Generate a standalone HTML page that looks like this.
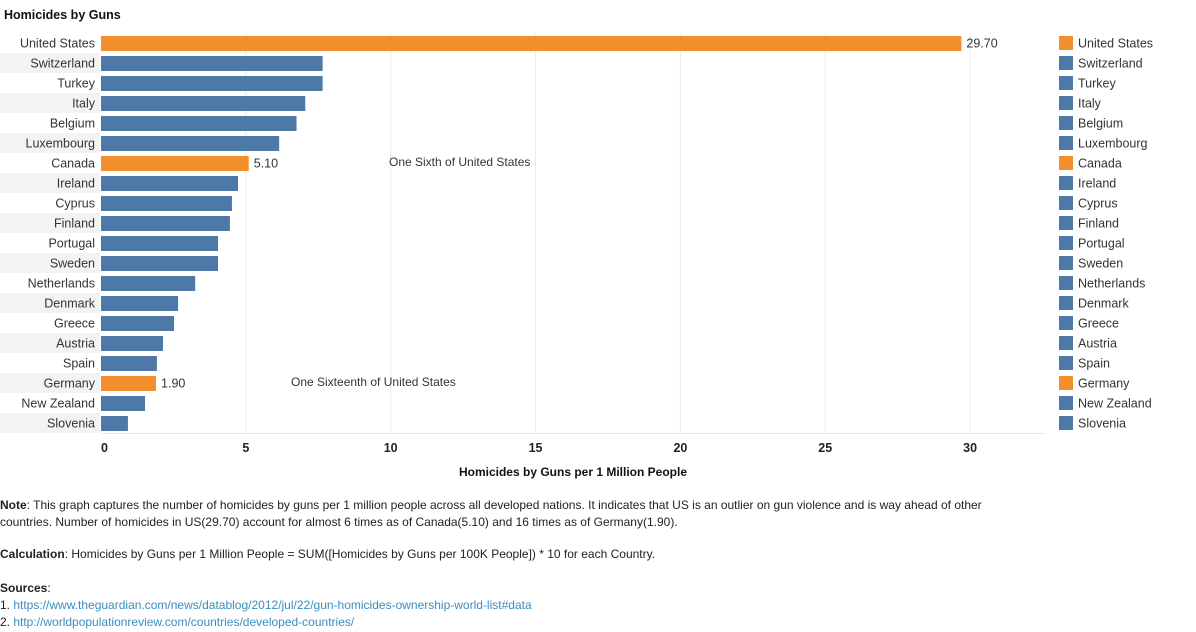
<!DOCTYPE html>
<html><head><meta charset="utf-8"><style>
body{margin:0;width:1196px;height:632px;background:#fff;font-family:"Liberation Sans",sans-serif;color:#333;position:relative;overflow:hidden}
.t{position:absolute;white-space:nowrap}
.note{position:absolute;left:0;font-size:12px;color:#222;line-height:17px;width:1060px}
a{color:#3a8dbd}
</style></head><body>
<div class="t" style="left:4px;top:8px;font-size:12.5px;font-weight:bold;color:#111">Homicides by Guns</div>
<svg id="c" width="1196" height="490" style="position:absolute;left:0;top:0"></svg>
<div class="note" style="top:497px;width:1030px"><b>Note</b>: This graph captures the number of homicides by guns per 1 million people across all developed nations. It indicates that US is an outlier on gun violence and is way ahead of other countries. Number of homicides in US(29.70) account for almost 6 times as of Canada(5.10) and 16 times as of Germany(1.90).</div>
<div class="note" style="top:546px"><b>Calculation</b>: Homicides by Guns per 1 Million People = SUM([Homicides by Guns per 100K People]) * 10 for each Country.</div>
<div class="note" style="top:580px"><b>Sources</b>:<br>1. <a>https://www.theguardian.com/news/datablog/2012/jul/22/gun-homicides-ownership-world-list#data</a><br>2. <a>http://worldpopulationreview.com/countries/developed-countries/</a></div>
<script>
const countries=["United States","Switzerland","Turkey","Italy","Belgium","Luxembourg","Canada","Ireland","Cyprus","Finland","Portugal","Sweden","Netherlands","Denmark","Greece","Austria","Spain","Germany","New Zealand","Slovenia"];
const values=[29.7,7.65,7.65,7.05,6.75,6.15,5.1,4.73,4.52,4.45,4.04,4.04,3.25,2.66,2.52,2.14,1.93,1.9,1.52,0.93];
const highlighted=["United States","Canada","Germany"];
const ticks=[0,5,10,15,20,25,30];
const NS="http://www.w3.org/2000/svg";
const svg=document.getElementById('c');
const x0=101,sc=28.97,top0=33,rowH=20;
const X=v=>x0+v*sc, Y=i=>top0+i*rowH;
function el(t,a,txt){const e=document.createElementNS(NS,t);for(const k in a)e.setAttribute(k,a[k]);if(txt!=null)e.textContent=txt;svg.appendChild(e);return e;}
countries.forEach((c,i)=>{if(i%2==1){const r=el('rect',{x:0,y:Y(i),width:100,height:rowH,fill:'#f3f3f3'});

}});
ticks.forEach(t=>{if(t>0){const l=el('line',{x1:X(t),x2:X(t),y1:top0,y2:top0+rowH*countries.length,stroke:'#ececec'});

}
const tx=el('text',{x:X(t),y:452,'text-anchor':t==0?'start':'middle','font-size':12.5,'font-weight':'bold',fill:'#222'},t);

});
const ax=el('line',{x1:x0,x2:1045,y1:433.5,y2:433.5,stroke:'#e6e6e6'});


const at=el('text',{x:573,y:476,'text-anchor':'middle','font-size':12,'font-weight':'bold',fill:'#111'},'Homicides by Guns per 1 Million People');


countries.forEach((c,i)=>{
const hi=highlighted.includes(c),col=hi?'#f28e2b':'#4e79a7';
const lb=el('text',{x:95,y:Y(i)+14.5,'text-anchor':'end','font-size':12.5,fill:'#333'},c);


const b=el('rect',{x:x0,y:Y(i)+3,width:values[i]*sc,height:15,fill:col});


if(hi){const v=el('text',{x:X(values[i])+5,y:Y(i)+14.5,'font-size':12.5,fill:'#333'},values[i].toFixed(2));

}
const ls=el('rect',{x:1059,y:Y(i)+3,width:14,height:14,fill:col});


const lt=el('text',{x:1078,y:Y(i)+14.5,'font-size':12.5,fill:'#333'},c);


});
const a1=el('text',{x:389,y:Y(6)+13,'font-size':12,fill:'#333'},'One Sixth of United States');


const a2=el('text',{x:291,y:Y(17)+13,'font-size':12,fill:'#333'},'One Sixteenth of United States');


</script>
</body></html>
